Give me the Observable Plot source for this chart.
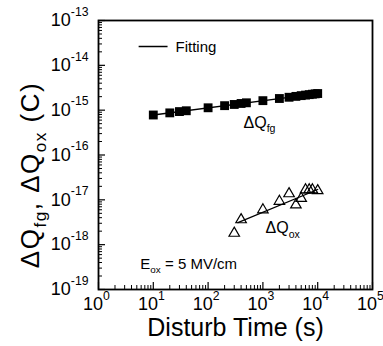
<!DOCTYPE html>
<html>
<head>
<meta charset="utf-8">
<script src="https://cdn.jsdelivr.net/npm/d3@7"></script>
<script src="https://cdn.jsdelivr.net/npm/@observablehq/plot@0.6"></script>
<style>
  html, body { margin: 0; padding: 0; background: #fff; }
  #chart { width: 383px; height: 346px; }
</style>
</head>
<body>
<div id="chart"></div>
<script>
// ---- data ----
const fgTime   = [10, 20, 30, 40, 100, 200, 300, 400, 500, 1000, 2000, 3000, 4000, 5000, 6000, 7000, 8000, 9000, 10000];
const fgCharge = [7.8e-16, 8.7e-16, 9.3e-16, 9.7e-16, 1.13e-15, 1.26e-15, 1.34e-15, 1.41e-15, 1.46e-15, 1.63e-15, 1.82e-15, 1.94e-15, 2.03e-15, 2.11e-15, 2.17e-15, 2.22e-15, 2.27e-15, 2.31e-15, 2.35e-15];

const oxTime   = [300, 400, 1000, 2000, 3000, 4000, 5000, 6000, 7000, 8000, 10000];
const oxCharge = [1.8e-18, 3.6e-18, 6.0e-18, 9.3e-18, 1.37e-17, 7.7e-18, 1.08e-17, 1.67e-17, 1.67e-17, 1.67e-17, 1.6e-17];

// fitted lines (end points)
const fitFgTime = [10, 10000];
const fitFgCharge = [7.8e-16, 2.35e-15];
const fitOxTime = [350, 10000];
const fitOxCharge = [3.1e-18, 1.7e-17];

// axis ticks
const xDecades = [1, 10, 100, 1000, 10000, 100000];
const yDecades = [1e-19, 1e-18, 1e-17, 1e-16, 1e-15, 1e-14, 1e-13];

// annotations (data coordinates, text baseline)
const annotations = [
  {text: "ΔQ_{fg}", x: 443, y: 4.1e-16, size: 16},
  {text: "ΔQ_{ox}", x: 1120, y: 1.78e-18, size: 16},
  {text: "E_{ox} = 5 MV/cm", x: 5.8, y: 2.9e-19, size: 15},
  {text: "Fitting", x: 25.4, y: 2.03e-14, size: 15}
];
const legendLine = [{x1: 5.4, x2: 18.2, y: 2.63e-14}];

const xTitle = "Disturb Time (s)";
const yTitle = "ΔQ_{fg}, ΔQ_{ox} (C)";

// ---- build tables ----
const fg = fgTime.map((t, i) => ({t, q: fgCharge[i]}));
const ox = oxTime.map((t, i) => ({t, q: oxCharge[i]}));
const fitFg = fitFgTime.map((t, i) => ({t, q: fitFgCharge[i]}));
const fitOx = fitOxTime.map((t, i) => ({t, q: fitOxCharge[i]}));
const minors = (decades) => decades.slice(0, -1).flatMap(d => [2,3,4,5,6,7,8,9].map(k => d * k));
const xMinor = minors(xDecades);
const yMinor = minors(yDecades);

const W = 383, H = 346;
const mL = 98, mR = 11, mT = 20, mB = 57;
const fw = W - mL - mR, fh = H - mT - mB;
const FONT = "'Liberation Sans', Arial, Helvetica, sans-serif";

const chart = Plot.plot({
  width: W, height: H,
  marginLeft: mL, marginRight: mR, marginTop: mT, marginBottom: mB,
  style: {fontFamily: FONT, color: "#000", background: "#fff", overflow: "visible"},
  x: {type: "log", domain: [1, 1e5]},
  y: {type: "log", domain: [1e-19, 1e-13]},
  marks: [
    // inward ticks
    Plot.tickY(yMinor, {y: d => d, insetRight: fw - 4, stroke: "#000", strokeWidth: 1}),
    Plot.tickY(yDecades, {y: d => d, insetRight: fw - 7, stroke: "#000", strokeWidth: 1.2}),
    Plot.tickX(xMinor, {x: d => d, insetTop: fh - 4, stroke: "#000", strokeWidth: 1}),
    Plot.tickX(xDecades, {x: d => d, insetTop: fh - 7, stroke: "#000", strokeWidth: 1.2}),
    Plot.axisX({ticks: xDecades, tickSize: 0, tickPadding: 8, fontSize: 18, label: null, dx: -2,
      tickFormat: d => `10^{${Math.round(Math.log10(d))}}`}),
    Plot.axisY({ticks: yDecades, tickSize: 0, tickPadding: 10, fontSize: 18, label: null,
      tickFormat: d => `10^{${Math.round(Math.log10(d))}}`}),
    Plot.frame({stroke: "#000", strokeWidth: 1.8}),
    // fits
    Plot.line(fitFg, {x: "t", y: "q", stroke: "#000", strokeWidth: 1.3}),
    Plot.line(fitOx, {x: "t", y: "q", stroke: "#000", strokeWidth: 1.3}),
    // data
    Plot.dot(fg, {x: "t", y: "q", symbol: "square", r: 5, fill: "#000", stroke: "none"}),
    Plot.dot(ox, {x: "t", y: "q", symbol: "triangle", r: 3.9, fill: "none", stroke: "#000", strokeWidth: 1.2}),
    // legend + annotations
    Plot.link(legendLine, {x1: "x1", x2: "x2", y1: "y", y2: "y", stroke: "#000", strokeWidth: 1.5}),
    ...annotations.map(a => Plot.text([a], {x: "x", y: "y", text: "text", textAnchor: "start",
      lineAnchor: "bottom", fontSize: a.size, fill: "#000"})),
    // axis titles
    Plot.text([xTitle], {frameAnchor: "bottom", text: d => d, textAnchor: "middle", lineAnchor: "bottom",
      dy: 46, fontSize: 25, fill: "#000"}),
    Plot.text([yTitle], {frameAnchor: "left", text: d => d, rotate: -90, textAnchor: "middle", lineAnchor: "bottom",
      dx: -60, dy: 20, fontSize: 26, fill: "#000", className: "ytitle"})
  ]
});
document.getElementById("chart").appendChild(chart);

// rich text: ^{sup} and _{sub}
const NS = "http://www.w3.org/2000/svg";
chart.querySelectorAll("text").forEach(el => {
  const s = el.textContent;
  if (!/[\^_]\{/.test(s)) return;
  const fs = parseFloat(getComputedStyle(el).fontSize) || 16;
  el.textContent = "";
  const re = /([\^_])\{([^}]*)\}|([^\^_]+)/g;
  let m, offset = 0;
  while ((m = re.exec(s))) {
    const t = document.createElementNS(NS, "tspan");
    if (m[1]) {
      const shift = m[1] === "^" ? -fs * 0.58 : fs * 0.28;
      t.setAttribute("dy", shift - offset);
      offset = shift;
      t.setAttribute("font-size", fs * (m[1] === "^" ? 0.68 : 0.66));
      t.textContent = m[2];
    } else {
      if (offset) t.setAttribute("dy", -offset);
      offset = 0;
      t.textContent = m[3];
    }
    el.appendChild(t);
  }
});
chart.querySelectorAll(".ytitle text").forEach(el => el.setAttribute("letter-spacing", "1.5"));
</script>
</body>
</html>
